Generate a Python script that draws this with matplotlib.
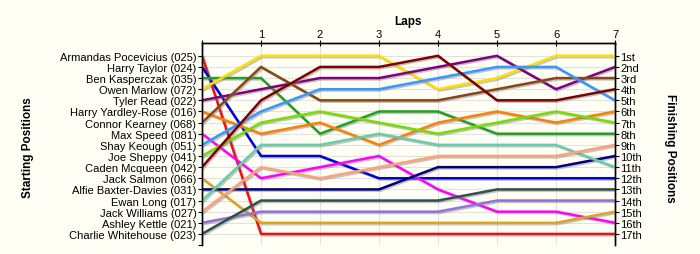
import matplotlib
matplotlib.use('Agg')
import matplotlib.pyplot as plt
import matplotlib.patheffects as pe
import numpy as np

plt.rcParams['font.family'] = ['Liberation Sans', 'DejaVu Sans']

# Pilotos en orden de salida
pilotos = ["Armandas Pocevicius (025)", "Harry Taylor (024)", "Ben Kasperczak (035)",
           "Owen Marlow (072)", "Tyler Read (022)", "Harry Yardley-Rose (016)",
           "Connor Kearney (068)", "Max Speed (081)", "Shay Keough (051)",
           "Joe Sheppy (041)", "Caden Mcqueen (042)", "Jack Salmon (066)",
           "Alfie Baxter-Davies (031)", "Ewan Long (017)", "Jack Williams (027)",
           "Ashley Kettle (021)", "Charlie Whitehouse (023)"]

# Posicion por vuelta (vuelta 0 = salida ... vuelta 7)
posiciones = [
    [1, 17, 17, 17, 17, 17, 17, 17],
    [2, 10, 10, 12, 12, 12, 12, 12],
    [3, 3, 8, 6, 6, 8, 8, 8],
    [4, 1, 1, 1, 4, 3, 1, 1],
    [5, 4, 3, 3, 2, 1, 4, 2],
    [6, 8, 7, 9, 7, 6, 7, 6],
    [7, 2, 5, 5, 5, 4, 3, 3],
    [8, 12, 11, 10, 13, 15, 15, 16],
    [9, 6, 4, 4, 3, 2, 2, 5],
    [10, 7, 6, 7, 8, 7, 6, 7],
    [11, 5, 2, 2, 1, 5, 5, 4],
    [12, 16, 16, 16, 16, 16, 16, 15],
    [13, 13, 13, 13, 11, 11, 11, 10],
    [14, 9, 9, 8, 9, 9, 9, 11],
    [15, 11, 12, 11, 10, 10, 10, 9],
    [16, 15, 15, 15, 15, 14, 14, 14],
    [17, 14, 14, 14, 14, 13, 13, 13],
]

colores = ["#ee1111", "#0000dd", "#22a022", "#ffdd00", "#800080", "#ff8000",
           "#8b4513", "#ff00ff", "#3399ff", "#77dd00", "#800000", "#daa520",
           "#000080", "#66cdaa", "#ffa07a", "#9370db", "#2f4f4f"]

finales = ["1st", "2nd", "3rd"] + [f"{i}th" for i in range(4, 18)]

bg = "#fffff6"
fig = plt.figure(figsize=(7, 2.55), dpi=100, facecolor=bg)
ax = fig.add_axes([0.2886, 0.035, 0.59, 0.7925], facecolor=bg)

vueltas = np.arange(8)
sombra = [pe.SimpleLineShadow(offset=(1, -1), shadow_color='gray', alpha=0.45), pe.Normal()]
for pos, c in zip(posiciones, colores):
    ax.plot(vueltas, pos, color=c, lw=1.8, path_effects=sombra, zorder=3)

ax.set_xlim(0, 7)
ax.set_ylim(18, -0.15)

# grilla
for y in range(1, 18):
    ax.axhline(y, color='#e2e2e2', lw=0.8, zorder=1)
for x in range(1, 7):
    ax.axvline(x, color='#e2e2e2', lw=0.8, zorder=1)

ax.xaxis.tick_top()
ax.set_xticks(vueltas)
ax.set_xticklabels([''] + [str(v) for v in vueltas[1:]], fontsize=8)
ax.tick_params(axis='x', direction='inout', length=4, width=0.8, pad=1)

ax.set_yticks(list(range(1, 19)))
ax.set_yticklabels(pilotos + [''], fontsize=8)
ax.tick_params(axis='y', length=3, width=0.8, pad=1)

ax2 = ax.twinx()
ax2.set_ylim(ax.get_ylim())
ax2.set_yticks(list(range(1, 18)))
ax2.set_yticklabels(finales, fontsize=8)
ax2.tick_params(axis='y', length=3, width=0.8, pad=1)

for a in (ax, ax2):
    a.spines['bottom'].set_visible(False)
    for s in ('top', 'left', 'right'):
        a.spines[s].set_linewidth(1.0)

fig.text(0.583, 0.915, "Laps", ha='center', va='center', fontsize=8.5, fontweight='bold')
fig.text(0.04, 0.42, "Starting Positions", ha='center', va='center', rotation=90,
         fontsize=8.5, fontweight='bold')
fig.text(0.957, 0.42, "Finishing Positions", ha='center', va='center', rotation=-90,
         fontsize=8.5, fontweight='bold')

fig.savefig("out.png", dpi=100, facecolor=bg)
